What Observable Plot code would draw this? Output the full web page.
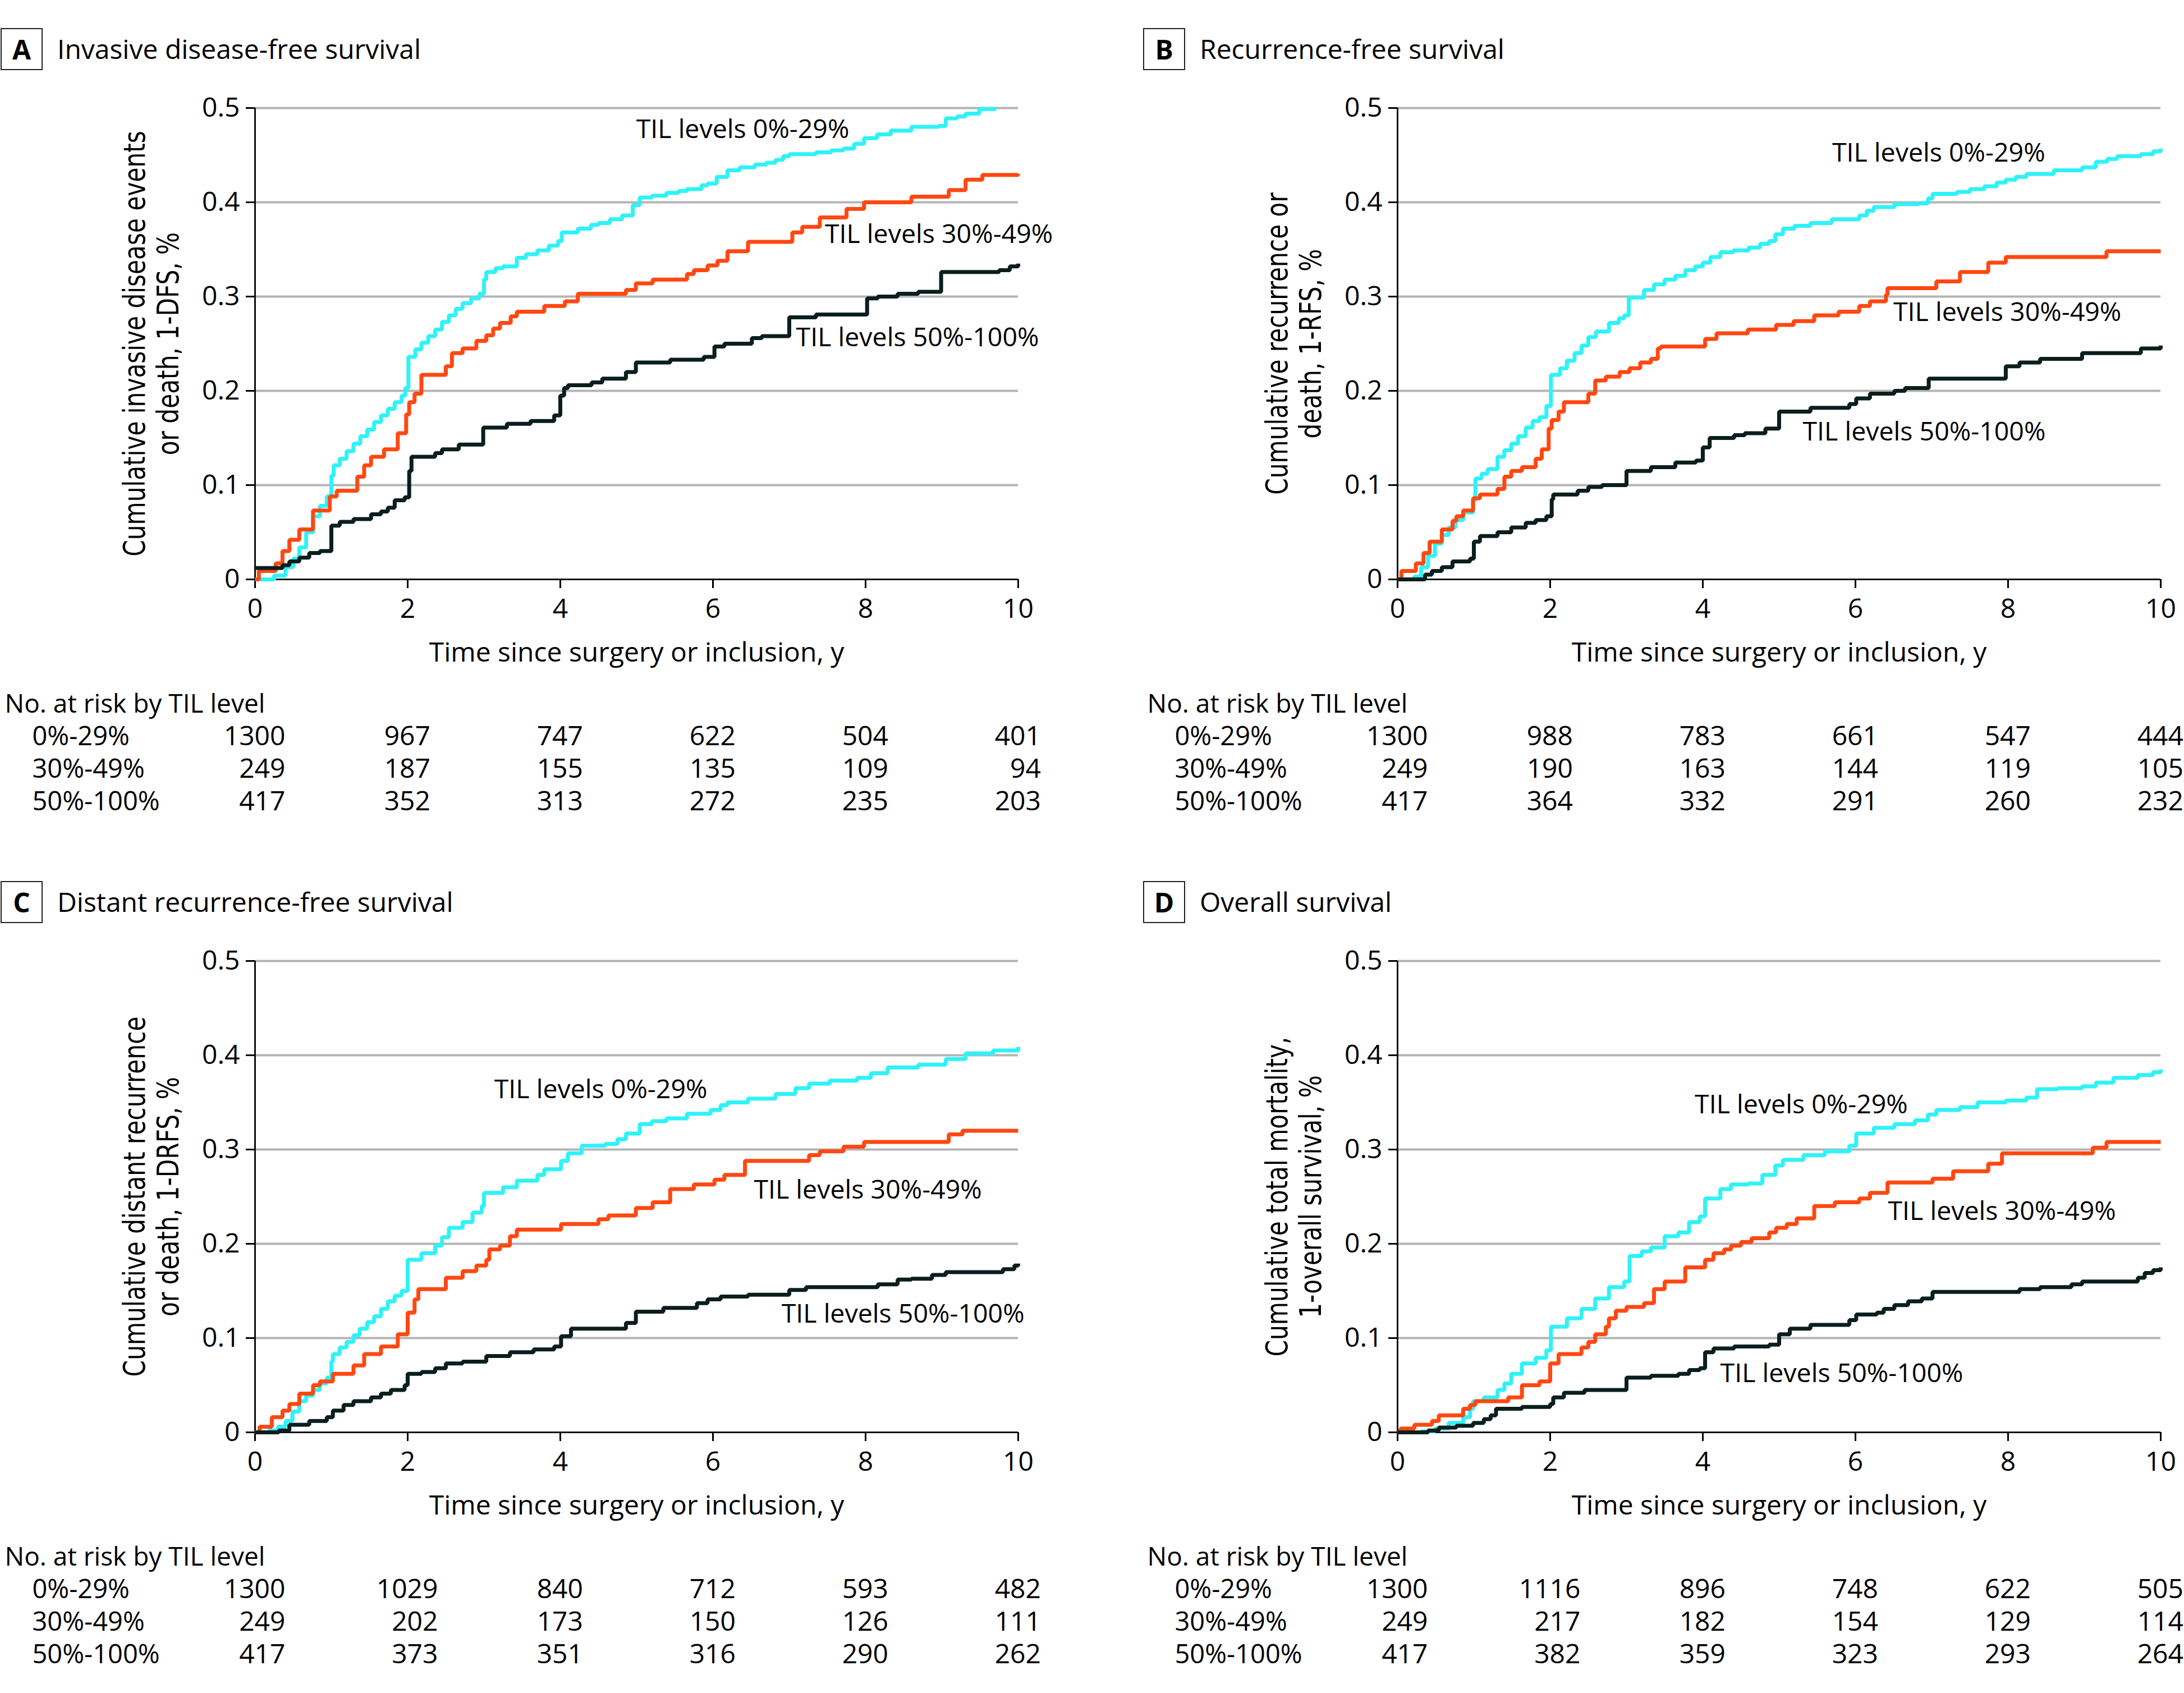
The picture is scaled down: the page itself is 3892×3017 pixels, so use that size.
<!DOCTYPE html>
<html><head><meta charset="utf-8">
<script src="https://cdn.jsdelivr.net/npm/d3@7"></script>
<script src="https://cdn.jsdelivr.net/npm/@observablehq/plot@0.6"></script>
<style>
html,body{margin:0;padding:0;background:#fff;}
body{width:3892px;height:3017px;position:relative;overflow:hidden;font-family:"Open Sans",sans-serif;color:#000;}
.panel{position:absolute;width:1946px;height:1500px;}
.box{position:absolute;left:1px;top:50px;width:71px;height:71px;border:2px solid #222;font-weight:700;font-size:48px;line-height:1;display:flex;align-items:center;justify-content:center;}
.title{position:absolute;left:102px;top:63px;font-size:48px;line-height:1;white-space:nowrap;}
.chart{position:absolute;left:0;top:130px;}
.chart svg{overflow:visible;}
</style></head><body>
<script>
// ---------- shared axis values ----------
const xTicks = [0, 2, 4, 6, 8, 10];
const xTickLabels = ["0", "2", "4", "6", "8", "10"];
const yTicks = [0, 0.1, 0.2, 0.3, 0.4, 0.5];
const yTickLabels = ["0", "0.1", "0.2", "0.3", "0.4", "0.5"];
const gridValues = [0.1, 0.2, 0.3, 0.4, 0.5];
const groups = ["0%-29%", "30%-49%", "50%-100%"];
const seriesColors = ["#2ff2f8", "#ff4812", "#0b1e1e"];
const xLabel = "Time since surgery or inclusion, y";
const riskHeader = "No. at risk by TIL level";

// ---------- panel titles & y labels ----------
const panelLetters = ["A", "B", "C", "D"];
const panelTitles = ["Invasive disease-free survival", "Recurrence-free survival", "Distant recurrence-free survival", "Overall survival"];
const yLabelsA = ["Cumulative invasive disease events", "or death, 1-DFS, %"];
const yLabelsB = ["Cumulative recurrence or", "death, 1-RFS, %"];
const yLabelsC = ["Cumulative distant recurrence", "or death, 1-DRFS, %"];
const yLabelsD = ["Cumulative total mortality,", "1-overall survival, %"];

// ---------- Panel A: invasive disease-free survival ----------
const A_low = [[0,0],[0.25,0.004],[0.4,0.013],[0.5,0.022],[0.58,0.034],[0.67,0.05],[0.76,0.067],[0.85,0.078],[0.94,0.088],[1.0,0.11],[1.03,0.121],[1.11,0.128],[1.2,0.136],[1.29,0.144],[1.38,0.152],[1.47,0.159],[1.56,0.167],[1.65,0.174],[1.74,0.181],[1.83,0.188],[1.92,0.195],[1.97,0.203],[2.01,0.236],[2.1,0.244],[2.18,0.251],[2.27,0.258],[2.36,0.265],[2.45,0.273],[2.54,0.28],[2.63,0.287],[2.72,0.293],[2.83,0.298],[2.94,0.303],[3.0,0.318],[3.03,0.326],[3.15,0.33],[3.25,0.332],[3.43,0.341],[3.55,0.345],[3.7,0.349],[3.85,0.354],[3.97,0.359],[4.02,0.368],[4.23,0.372],[4.4,0.376],[4.5,0.378],[4.65,0.382],[4.81,0.386],[4.95,0.397],[5.04,0.405],[5.2,0.407],[5.39,0.41],[5.55,0.412],[5.66,0.414],[5.85,0.418],[5.93,0.42],[6.05,0.427],[6.19,0.434],[6.35,0.437],[6.55,0.44],[6.7,0.442],[6.82,0.445],[6.92,0.449],[7.0,0.451],[7.35,0.453],[7.55,0.455],[7.71,0.457],[7.85,0.462],[7.98,0.468],[8.15,0.472],[8.33,0.476],[8.6,0.48],[8.96,0.481],[9.05,0.489],[9.2,0.491],[9.31,0.494],[9.49,0.499],[9.7,0.5]];
const A_mid = [[0,0],[0.05,0.009],[0.27,0.017],[0.36,0.03],[0.45,0.042],[0.58,0.053],[0.76,0.073],[0.98,0.088],[1.07,0.094],[1.34,0.109],[1.43,0.121],[1.52,0.13],[1.69,0.138],[1.87,0.155],[1.98,0.175],[2.02,0.188],[2.09,0.197],[2.18,0.217],[2.5,0.226],[2.58,0.24],[2.72,0.245],[2.9,0.253],[3.03,0.259],[3.12,0.266],[3.21,0.272],[3.35,0.279],[3.43,0.284],[3.79,0.29],[4.06,0.295],[4.23,0.303],[4.86,0.307],[4.99,0.314],[5.21,0.318],[5.66,0.324],[5.75,0.328],[5.93,0.333],[6.06,0.338],[6.19,0.348],[6.46,0.358],[7.04,0.368],[7.17,0.374],[7.4,0.384],[7.75,0.393],[7.98,0.4],[8.6,0.406],[9.09,0.413],[9.31,0.424],[9.53,0.429],[10,0.43]];
const A_high = [[0,0.012],[0.36,0.015],[0.45,0.019],[0.58,0.023],[0.71,0.028],[0.85,0.03],[1.0,0.057],[1.11,0.061],[1.29,0.064],[1.52,0.069],[1.65,0.072],[1.74,0.076],[1.83,0.084],[1.96,0.087],[2.02,0.115],[2.05,0.13],[2.36,0.134],[2.45,0.138],[2.67,0.143],[2.99,0.161],[3.3,0.165],[3.61,0.168],[3.92,0.174],[4.0,0.195],[4.05,0.203],[4.1,0.206],[4.41,0.209],[4.55,0.213],[4.86,0.22],[4.99,0.23],[5.44,0.233],[5.88,0.236],[6.02,0.247],[6.15,0.25],[6.51,0.256],[6.64,0.258],[7.0,0.278],[7.35,0.281],[8.02,0.298],[8.16,0.3],[8.42,0.303],[8.69,0.305],[8.99,0.326],[9.75,0.328],[9.89,0.332],[10,0.335]];
const A_labelPos = [[6.39,0.477],[8.96,0.366],[8.68,0.256]];
const A_risk = [[1300,967,747,622,504,401],[249,187,155,135,109,94],[417,352,313,272,235,203]];

// ---------- Panel B: recurrence-free survival ----------
const B_low = [[0,0],[0.22,0.003],[0.31,0.013],[0.4,0.025],[0.49,0.038],[0.58,0.047],[0.67,0.055],[0.76,0.063],[0.86,0.071],[0.99,0.084],[1.02,0.107],[1.1,0.112],[1.18,0.117],[1.31,0.13],[1.4,0.137],[1.49,0.144],[1.58,0.152],[1.68,0.161],[1.77,0.168],[1.86,0.172],[1.95,0.184],[2.01,0.217],[2.13,0.224],[2.22,0.232],[2.32,0.24],[2.41,0.248],[2.5,0.257],[2.6,0.263],[2.77,0.272],[2.9,0.277],[2.97,0.28],[3.03,0.299],[3.23,0.307],[3.36,0.313],[3.5,0.318],[3.64,0.322],[3.77,0.328],[3.9,0.332],[4.0,0.336],[4.1,0.342],[4.23,0.347],[4.4,0.349],[4.6,0.352],[4.75,0.356],[4.87,0.359],[4.95,0.366],[5.05,0.372],[5.2,0.375],[5.41,0.378],[5.69,0.382],[6.05,0.386],[6.15,0.391],[6.24,0.395],[6.51,0.398],[6.83,0.399],[6.95,0.404],[7.01,0.409],[7.33,0.411],[7.5,0.414],[7.69,0.417],[7.85,0.421],[7.97,0.424],[8.1,0.427],[8.24,0.43],[8.6,0.434],[8.97,0.437],[9.15,0.443],[9.3,0.446],[9.43,0.449],[9.74,0.451],[9.9,0.454],[10,0.457]];
const B_mid = [[0,0],[0.05,0.009],[0.24,0.017],[0.34,0.028],[0.42,0.04],[0.58,0.053],[0.72,0.062],[0.77,0.067],[0.86,0.073],[0.99,0.086],[1.08,0.09],[1.31,0.096],[1.4,0.109],[1.49,0.115],[1.63,0.119],[1.81,0.128],[1.89,0.138],[1.98,0.16],[2.02,0.169],[2.11,0.178],[2.18,0.188],[2.5,0.197],[2.59,0.211],[2.73,0.215],[2.91,0.22],[3.04,0.224],[3.18,0.23],[3.32,0.234],[3.41,0.245],[3.45,0.247],[4.03,0.255],[4.18,0.261],[4.59,0.265],[4.96,0.27],[5.19,0.274],[5.46,0.28],[5.78,0.284],[6.05,0.29],[6.19,0.295],[6.4,0.302],[6.42,0.309],[7.06,0.316],[7.37,0.326],[7.74,0.336],[7.97,0.342],[9.29,0.348],[10,0.348]];
const B_high = [[0,0],[0.36,0.005],[0.45,0.009],[0.58,0.013],[0.72,0.019],[0.95,0.022],[1.0,0.04],[1.08,0.046],[1.31,0.05],[1.49,0.055],[1.68,0.06],[1.81,0.063],[1.95,0.067],[2.02,0.085],[2.04,0.09],[2.36,0.094],[2.5,0.098],[2.68,0.1],[3.0,0.115],[3.32,0.119],[3.64,0.124],[3.91,0.126],[4.0,0.14],[4.09,0.15],[4.41,0.153],[4.55,0.155],[4.82,0.16],[5.0,0.178],[5.41,0.182],[5.92,0.186],[6.01,0.192],[6.19,0.197],[6.51,0.2],[6.65,0.203],[6.96,0.213],[7.97,0.226],[8.15,0.23],[8.42,0.234],[8.97,0.24],[9.74,0.245],[10,0.248]];
const B_labelPos = [[7.09,0.452],[7.99,0.283],[6.9,0.156]];
const B_risk = [[1300,988,783,661,547,444],[249,190,163,144,119,105],[417,364,332,291,260,232]];

// ---------- Panel C: distant recurrence-free survival ----------
const C_low = [[0,0],[0.18,0.002],[0.3,0.006],[0.4,0.012],[0.49,0.022],[0.58,0.033],[0.67,0.039],[0.76,0.045],[0.85,0.052],[0.94,0.058],[1.0,0.075],[1.02,0.083],[1.11,0.09],[1.2,0.096],[1.29,0.103],[1.37,0.11],[1.47,0.117],[1.56,0.123],[1.65,0.131],[1.74,0.139],[1.83,0.145],[1.92,0.15],[2.0,0.183],[2.18,0.19],[2.36,0.198],[2.45,0.207],[2.54,0.217],[2.72,0.223],[2.85,0.233],[2.97,0.24],[3.0,0.254],[3.25,0.26],[3.43,0.267],[3.7,0.273],[3.79,0.279],[4.01,0.288],[4.1,0.296],[4.28,0.304],[4.59,0.306],[4.75,0.311],[4.86,0.317],[5.04,0.327],[5.2,0.33],[5.39,0.333],[5.66,0.338],[5.97,0.342],[6.1,0.347],[6.19,0.35],[6.46,0.354],[6.82,0.359],[7.08,0.365],[7.26,0.37],[7.53,0.373],[7.89,0.376],[8.07,0.381],[8.29,0.387],[8.69,0.39],[9.05,0.396],[9.31,0.402],[9.67,0.405],[10,0.409]];
const C_mid = [[0,0],[0.06,0.006],[0.22,0.016],[0.36,0.023],[0.45,0.03],[0.58,0.041],[0.76,0.05],[0.85,0.054],[1.02,0.062],[1.29,0.071],[1.43,0.083],[1.65,0.091],[1.87,0.104],[2.0,0.127],[2.09,0.141],[2.14,0.152],[2.5,0.164],[2.72,0.171],[2.9,0.177],[3.03,0.183],[3.07,0.194],[3.21,0.198],[3.34,0.208],[3.43,0.215],[4.01,0.221],[4.5,0.226],[4.63,0.23],[4.99,0.238],[5.21,0.244],[5.44,0.258],[5.75,0.263],[6.02,0.268],[6.15,0.273],[6.42,0.288],[7.26,0.294],[7.4,0.298],[7.71,0.303],[7.98,0.308],[9.09,0.316],[9.27,0.32],[10,0.32]];
const C_high = [[0,0],[0.31,0.002],[0.45,0.008],[0.71,0.012],[0.94,0.016],[1.02,0.023],[1.16,0.029],[1.29,0.033],[1.52,0.037],[1.65,0.041],[1.78,0.045],[1.96,0.05],[2.0,0.062],[2.18,0.064],[2.36,0.068],[2.5,0.073],[2.72,0.075],[3.03,0.081],[3.34,0.085],[3.65,0.088],[3.92,0.091],[4.01,0.102],[4.14,0.11],[4.86,0.116],[4.99,0.128],[5.35,0.132],[5.79,0.137],[5.93,0.141],[6.1,0.144],[6.46,0.146],[7.0,0.151],[7.22,0.154],[8.16,0.157],[8.42,0.162],[8.6,0.163],[8.87,0.167],[9.05,0.17],[9.8,0.173],[9.95,0.177],[10,0.179]];
const C_labelPos = [[4.53,0.3635],[8.03,0.257],[8.49,0.125]];
const C_risk = [[1300,1029,840,712,593,482],[249,202,173,150,126,111],[417,373,351,316,290,262]];

// ---------- Panel D: overall survival ----------
const D_low = [[0,0],[0.31,0.001],[0.49,0.004],[0.67,0.01],[0.86,0.016],[0.95,0.025],[0.99,0.033],[1.13,0.037],[1.31,0.045],[1.4,0.052],[1.49,0.062],[1.63,0.073],[1.81,0.079],[1.95,0.087],[2.01,0.112],[2.22,0.121],[2.41,0.131],[2.59,0.142],[2.77,0.154],[2.97,0.16],[3.04,0.187],[3.2,0.192],[3.32,0.196],[3.5,0.208],[3.68,0.212],[3.82,0.223],[3.96,0.229],[4.03,0.248],[4.23,0.258],[4.37,0.263],[4.6,0.264],[4.78,0.273],[4.95,0.283],[5.05,0.289],[5.32,0.294],[5.6,0.298],[5.92,0.304],[6.01,0.317],[6.24,0.323],[6.51,0.327],[6.78,0.331],[6.95,0.337],[7.06,0.342],[7.37,0.345],[7.6,0.35],[7.97,0.352],[8.24,0.355],[8.38,0.364],[8.65,0.365],[8.97,0.367],[9.15,0.371],[9.38,0.376],[9.7,0.379],[9.9,0.382],[10,0.385]];
const D_mid = [[0,0],[0.04,0.004],[0.22,0.008],[0.45,0.012],[0.54,0.018],[0.86,0.025],[0.95,0.029],[1.02,0.033],[1.45,0.037],[1.63,0.05],[1.86,0.054],[2.0,0.073],[2.11,0.083],[2.41,0.09],[2.5,0.096],[2.59,0.104],[2.73,0.112],[2.77,0.121],[2.86,0.129],[3.0,0.133],[3.23,0.137],[3.36,0.152],[3.5,0.16],[3.77,0.175],[4.03,0.183],[4.14,0.19],[4.28,0.194],[4.37,0.198],[4.5,0.202],[4.64,0.206],[4.87,0.212],[4.96,0.217],[5.1,0.221],[5.23,0.227],[5.46,0.24],[5.73,0.244],[6.05,0.248],[6.19,0.254],[6.42,0.265],[7.01,0.269],[7.28,0.277],[7.74,0.285],[7.92,0.296],[9.11,0.302],[9.29,0.308],[10,0.308]];
const D_high = [[0,0],[0.4,0.002],[0.54,0.005],[0.77,0.007],[0.99,0.01],[1.13,0.014],[1.22,0.018],[1.29,0.025],[1.63,0.027],[2.0,0.03],[2.04,0.037],[2.18,0.042],[2.45,0.045],[3.0,0.058],[3.32,0.06],[3.68,0.062],[3.82,0.066],[3.96,0.068],[4.03,0.085],[4.14,0.089],[4.41,0.091],[4.87,0.093],[5.0,0.104],[5.14,0.11],[5.41,0.114],[5.92,0.119],[6.01,0.125],[6.28,0.127],[6.37,0.131],[6.51,0.135],[6.69,0.139],[6.87,0.142],[7.01,0.149],[8.15,0.152],[8.42,0.154],[8.83,0.157],[8.97,0.16],[9.7,0.164],[9.79,0.169],[9.9,0.172],[10,0.175]];
const D_labelPos = [[5.29,0.347],[7.92,0.234],[5.82,0.062]];
const D_risk = [[1300,1116,896,748,622,505],[249,217,182,154,129,114],[417,382,359,323,293,264]];

// ---------- layout (styling only) ----------
const FONT = "'Open Sans', sans-serif";
const YFONT = "'DejaVu Sans Condensed', 'DejaVu Sans', sans-serif";
const panels = [
  {ox: 0, oy: 0, w: 1946, curves: [A_low, A_mid, A_high], labelPos: A_labelPos, risk: A_risk, ylab: yLabelsA},
  {ox: 2036, oy: 0, w: 1856, curves: [B_low, B_mid, B_high], labelPos: B_labelPos, risk: B_risk, ylab: yLabelsB},
  {ox: 0, oy: 1520, w: 1946, curves: [C_low, C_mid, C_high], labelPos: C_labelPos, risk: C_risk, ylab: yLabelsC},
  {ox: 2036, oy: 1520, w: 1856, curves: [D_low, D_mid, D_high], labelPos: D_labelPos, risk: D_risk, ylab: yLabelsD}
];

const ML = 454, MT = 62, FH = 840, FW = 1360, MB = 440;

panels.forEach((p, k) => {
  const div = document.createElement("div");
  div.className = "panel";
  div.style.left = p.ox + "px";
  div.style.top = p.oy + "px";
  const box = document.createElement("div");
  box.className = "box"; box.textContent = panelLetters[k];
  const title = document.createElement("div");
  title.className = "title"; title.textContent = panelTitles[k];
  div.appendChild(box); div.appendChild(title);

  const marks = [
    Plot.ruleY(gridValues, {stroke: "#b4b4b4", strokeWidth: 4}),
    Plot.ruleX([0], {stroke: "#111", strokeWidth: 3}),
    Plot.ruleY([0], {stroke: "#111", strokeWidth: 3}),
    Plot.axisX({ticks: xTicks, tickSize: 16, tickPadding: 18, strokeWidth: 3, label: null, fontSize: 48,
      tickFormat: d => xTickLabels[xTicks.indexOf(d)]}),
    Plot.axisY({ticks: yTicks, tickSize: 16, tickPadding: 11, strokeWidth: 3, label: null, fontSize: 48,
      tickFormat: d => yTickLabels[yTicks.indexOf(d)]}),
  ];
  p.curves.forEach((c, i) => {
    marks.push(Plot.line(c, {x: d => d[0], y: d => d[1], curve: "step-after", stroke: seriesColors[i],
      strokeWidth: 7, strokeLinejoin: "miter", strokeLinecap: "butt"}));
  });
  marks.push(Plot.text(p.labelPos, {x: d => d[0], y: d => d[1], text: (d, i) => "TIL levels " + groups[i],
    fontSize: 46.5, textAnchor: "middle", fill: "#000"}));
  // y label (two lines)
  marks.push(Plot.text([p.ylab[0]], {frameAnchor: "left", text: d => d, rotate: -90, textAnchor: "middle",
    lineAnchor: "bottom", dx: -197, fontSize: 47, fontFamily: YFONT, fill: "#000", className: "ylab"}));
  marks.push(Plot.text([p.ylab[1]], {frameAnchor: "left", text: d => d, rotate: -90, textAnchor: "middle",
    lineAnchor: "bottom", dx: -137, fontSize: 47, fontFamily: YFONT, fill: "#000", className: "ylab"}));
  // x label
  marks.push(Plot.text([xLabel], {frameAnchor: "bottom", text: d => d, lineAnchor: "bottom", dy: 146, fontSize: 48, fill: "#000"}));
  // risk table header and group labels
  marks.push(Plot.text([riskHeader], {frameAnchor: "bottom-left", text: d => d, textAnchor: "start", lineAnchor: "bottom",
    dx: -(ML - 8), dy: 237, fontSize: 46, fill: "#000"}));
  marks.push(Plot.text([groups.join("\n")], {frameAnchor: "bottom-left", text: d => d, textAnchor: "start", lineAnchor: "bottom",
    lineHeight: 58 / 47, dx: -(ML - 57), dy: 411, fontSize: 47, fill: "#000"}));
  // risk numbers: one multi-line text per column, right-aligned
  const cols = xTicks.map((t, ci) => ({t, lines: p.risk.map(r => String(r[ci]))}));
  const lens = Array.from(new Set(cols.map(c => d3.max(c.lines, s => s.length))));
  lens.forEach(len => {
    marks.push(Plot.text(cols.filter(c => d3.max(c.lines, s => s.length) === len), {
      x: "t", text: c => c.lines.join("\n"), frameAnchor: "bottom", textAnchor: "end", lineAnchor: "bottom",
      lineHeight: 58 / 48, dx: 13.5 * len, dy: 411, fontSize: 48, fill: "#000"}));
  });

  const chart = Plot.plot({
    width: p.w, height: MT + FH + MB,
    marginLeft: ML, marginTop: MT, marginBottom: MB, marginRight: p.w - ML - FW,
    x: {domain: [0, 10]},
    y: {domain: [0, 0.5]},
    style: {fontFamily: FONT, fontSize: "48px", background: "transparent", color: "#000", overflow: "visible"},
    marks
  });
  // thicken the rotated y-label glyphs slightly (reference glyphs are taller)
  d3.select(chart).selectAll("g.ylab text").attr("transform", function () {
    return (this.getAttribute("transform") || "") + " scale(1,1.12)";
  });
  const holder = document.createElement("div");
  holder.className = "chart";
  holder.appendChild(chart);
  div.appendChild(holder);
  document.body.appendChild(div);
});
</script>
</body></html>
